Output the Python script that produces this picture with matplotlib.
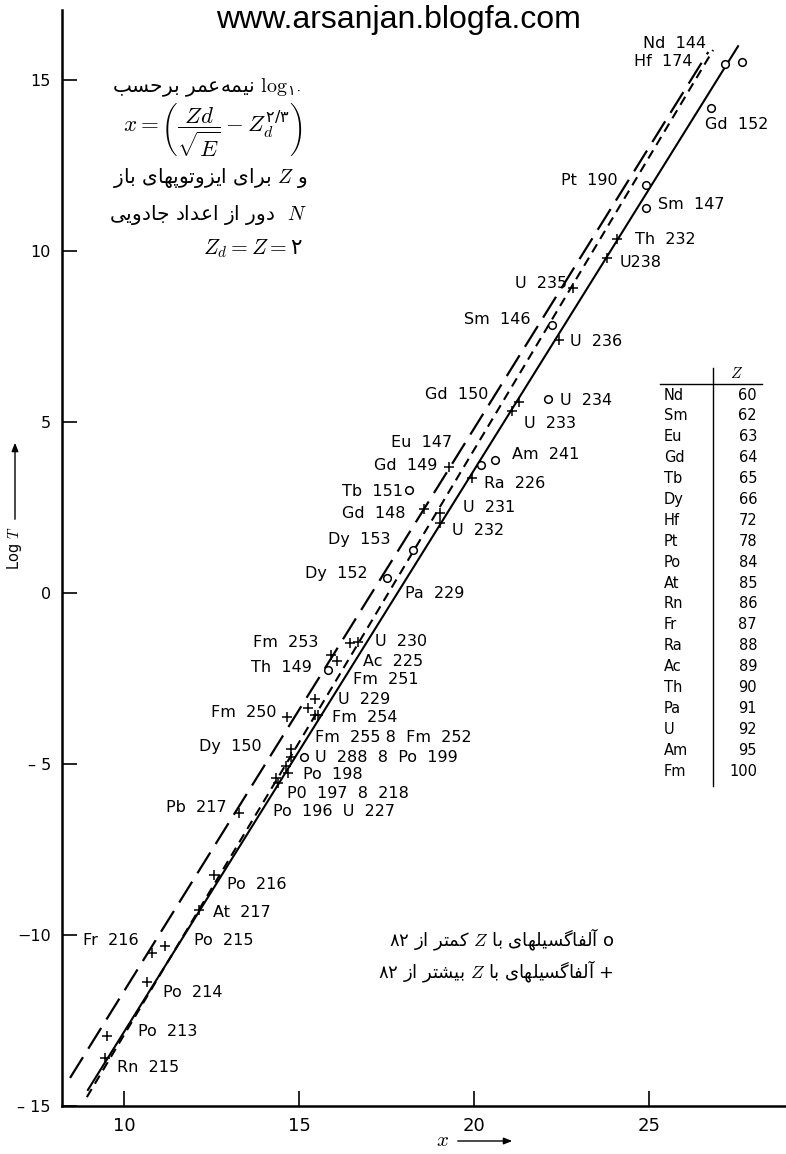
import matplotlib
matplotlib.use('Agg')
import matplotlib.pyplot as plt
from matplotlib.lines import Line2D
from matplotlib import font_manager

plt.rcParams['mathtext.fontset'] = 'cm'
plt.rcParams['font.family'] = 'DejaVu Sans'

installed = {f.name for f in font_manager.fontManager.ttflist}
narrow = 'Liberation Sans Narrow' if 'Liberation Sans Narrow' in installed else 'DejaVu Sans'

# alpha emitters with Z < 82 (open circles)
circle_x = [27.17, 27.65, 26.76, 24.91, 24.91, 22.24, 22.12, 20.60, 20.19,
            18.14, 18.27, 17.51, 15.84, 15.14]
circle_y = [15.46, 15.52, 14.17, 11.93, 11.27, 7.84, 5.66, 3.89, 3.74,
            3.01, 1.26, 0.43, -2.25, -4.79]

# alpha emitters with Z > 82 (crosses)
plus_x = [24.09, 23.79, 22.82, 22.44, 21.29, 21.08, 19.29, 19.93, 18.58,
          19.03, 19.03, 16.46, 16.69, 15.91, 16.08, 15.46, 15.27, 15.46,
          15.55, 14.67, 14.76, 14.76, 14.63, 14.69, 14.34, 14.41, 13.29,
          12.57, 12.15, 11.17, 10.79, 10.67, 9.51, 9.46]
plus_y = [10.35, 9.80, 8.91, 7.40, 5.59, 5.32, 3.69, 3.35, 2.45,
          2.33, 2.06, -1.47, -1.42, -1.81, -1.98, -3.10, -3.37, -3.57,
          -3.57, -3.62, -4.57, -4.79, -5.06, -5.27, -5.42, -5.56, -6.44,
          -8.25, -9.27, -10.32, -10.54, -11.37, -12.95, -13.61]

# fitted lines (end points)
long_x, long_y = [8.46, 26.69], [-14.18, 15.82]
short_x, short_y = [8.94, 26.83], [-14.74, 15.88]
solid_x, solid_y = [8.97, 27.54], [-14.53, 15.99]

# nuclide names next to the points: (text, x, y, ha)
point_labels = [
    ('Nd  144', 24.83, 16.08, 'left'), ('Hf  174', 24.57, 15.53, 'left'),
    ('Gd  152', 26.60, 13.71, 'left'), ('Pt  190', 24.11, 12.05, 'right'),
    ('Sm  147', 25.26, 11.35, 'left'), ('Th  232', 24.60, 10.35, 'left'),
    ('U238', 24.17, 9.66, 'left'), ('U  235', 22.66, 9.04, 'right'),
    ('Sm  146', 21.60, 8.01, 'right'), ('U  236', 22.74, 7.35, 'left'),
    ('Gd  150', 20.40, 5.82, 'right'), ('U  234', 22.46, 5.64, 'left'),
    ('U  233', 21.43, 4.97, 'left'), ('Eu  147', 19.37, 4.39, 'right'),
    ('Am  241', 21.09, 4.06, 'left'), ('Gd  149', 18.94, 3.72, 'right'),
    ('Ra  226', 20.29, 3.19, 'left'), ('Tb  151', 17.97, 2.98, 'right'),
    ('U  231', 19.69, 2.49, 'left'), ('Gd  148', 18.03, 2.34, 'right'),
    ('U  232', 19.37, 1.84, 'left'), ('Dy  153', 17.60, 1.58, 'right'),
    ('Dy  152', 16.97, 0.58, 'right'), ('Pa  229', 18.03, 0.00, 'left'),
    ('Fm  253', 15.54, -1.46, 'right'), ('U  230', 17.17, -1.43, 'left'),
    ('Th  149', 15.37, -2.19, 'right'), ('Ac  225', 16.83, -1.99, 'left'),
    ('Fm  251', 16.54, -2.54, 'left'), ('U  229', 16.11, -3.10, 'left'),
    ('Fm  250', 14.37, -3.48, 'right'), ('Fm  254', 15.94, -3.65, 'left'),
    ('Fm  255 8  Fm  252', 15.46, -4.21, 'left'),
    ('Dy  150', 13.94, -4.50, 'right'),
    ('U  288  8  Po  199', 15.46, -4.80, 'left'),
    ('Po  198', 15.11, -5.32, 'left'),
    ('P0  197  8  218', 14.66, -5.85, 'left'),
    ('Pb  217', 12.94, -6.26, 'right'),
    ('Po  196  U  227', 14.26, -6.40, 'left'),
    ('Po  216', 12.94, -8.51, 'left'), ('At  217', 12.54, -9.33, 'left'),
    ('Po  215', 12.00, -10.15, 'left'), ('Fr  216', 8.83, -10.15, 'left'),
    ('Po  214', 11.11, -11.67, 'left'), ('Po  213', 10.40, -12.81, 'left'),
    ('Rn  215', 9.80, -13.86, 'left'),
]

# element table
elements = ['Nd', 'Sm', 'Eu', 'Gd', 'Tb', 'Dy', 'Hf', 'Pt', 'Po', 'At',
            'Rn', 'Fr', 'Ra', 'Ac', 'Th', 'Pa', 'U', 'Am', 'Fm']
z_numbers = [60, 62, 63, 64, 65, 66, 72, 78, 84, 85,
             86, 87, 88, 89, 90, 91, 92, 95, 100]

y_ticks = [-15, -10, -5, 0, 5, 10, 15]
y_ticklabels = ['\u2013 15', '\u221210', '\u2013 5', '0', '5', '10', '15']
x_ticks = [10, 15, 20, 25]

# presentation forms: isolated, final (, initial, medial)
FORMS = {
    '\u0627': ('\uFE8D', '\uFE8E'),
    '\u0622': ('\uFE81', '\uFE82'),
    '\u062F': ('\uFEA9', '\uFEAA'),
    '\u0631': ('\uFEAD', '\uFEAE'),
    '\u0632': ('\uFEAF', '\uFEB0'),
    '\u0648': ('\uFEED', '\uFEEE'),
    '\u0628': ('\uFE8F', '\uFE90', '\uFE91', '\uFE92'),
    '\u067E': ('\uFB56', '\uFB57', '\uFB58', '\uFB59'),
    '\u062A': ('\uFE95', '\uFE96', '\uFE97', '\uFE98'),
    '\u062C': ('\uFE9D', '\uFE9E', '\uFE9F', '\uFEA0'),
    '\u062D': ('\uFEA1', '\uFEA2', '\uFEA3', '\uFEA4'),
    '\u0633': ('\uFEB1', '\uFEB2', '\uFEB3', '\uFEB4'),
    '\u0634': ('\uFEB5', '\uFEB6', '\uFEB7', '\uFEB8'),
    '\u0639': ('\uFEC9', '\uFECA', '\uFECB', '\uFECC'),
    '\u0641': ('\uFED1', '\uFED2', '\uFED3', '\uFED4'),
    '\u06A9': ('\uFB8E', '\uFB8F', '\uFB90', '\uFB91'),
    '\u06AF': ('\uFB92', '\uFB93', '\uFB94', '\uFB95'),
    '\u0644': ('\uFEDD', '\uFEDE', '\uFEDF', '\uFEE0'),
    '\u0645': ('\uFEE1', '\uFEE2', '\uFEE3', '\uFEE4'),
    '\u0646': ('\uFEE5', '\uFEE6', '\uFEE7', '\uFEE8'),
    '\u0647': ('\uFEE9', '\uFEEA', '\uFEEB', '\uFEEC'),
    '\u06CC': ('\uFBFC', '\uFBFD', '\uFBFE', '\uFBFF'),
}


def fa(text):
    # join the letters and lay them out right to left
    out = []
    for i, ch in enumerate(text):
        forms = FORMS.get(ch)
        if forms is None:
            if ch != '\u200c':
                out.append(ch)
            continue
        prev = text[i - 1] if i > 0 else ''
        nxt = text[i + 1] if i + 1 < len(text) else ''
        join_prev = prev in FORMS and len(FORMS[prev]) == 4
        join_next = len(forms) == 4 and nxt in FORMS
        if join_prev and join_next:
            out.append(forms[3])
        elif join_next:
            out.append(forms[2])
        elif join_prev:
            out.append(forms[1])
        else:
            out.append(forms[0])
    return ''.join(out)[::-1]


W, H = 786, 1154


def fx(x):
    return x / W


def fy(y):
    return 1 - y / H


fig = plt.figure(figsize=(W / 100, H / 100), dpi=100)
ax = fig.add_axes([fx(62), 48 / H, 724 / W, 1096 / H])
ax.set_xlim(8.23, 28.91)
ax.set_ylim(-15, 17.05)

ax.plot(long_x, long_y, color='black', lw=1.6, linestyle=(0, (11, 4.5)))
ax.plot(short_x, short_y, color='black', lw=1.5, linestyle=(0, (4.5, 3)))
ax.plot(solid_x, solid_y, color='black', lw=1.5)

ax.plot(circle_x, circle_y, 'o', mfc='white', mec='black', ms=5.5, mew=1.1)
ax.plot(plus_x, plus_y, '+', color='black', ms=6.5, mew=1.1)

for text, x, y, ha in point_labels:
    ax.text(x, y, text, ha=ha, va='center', fontsize=11.5)

for s in ['top', 'right']:
    ax.spines[s].set_visible(False)
for s in ['left', 'bottom']:
    ax.spines[s].set_linewidth(1.8)

ax.set_yticks(y_ticks)
ax.set_yticklabels(y_ticklabels, fontsize=11.5)
ax.set_xticks(x_ticks)
ax.set_xticklabels([str(t) for t in x_ticks], fontsize=13, family=narrow)
ax.tick_params(direction='in', length=11, width=1.2)
ax.tick_params(axis='y', pad=8)
ax.tick_params(axis='x', pad=8)

# axis titles with arrows
fig.text(fx(15), fy(548), r'Log $T$', rotation=90, ha='center', va='center',
         fontsize=10.5)
ax.annotate('', xy=(fx(15), fy(440)), xytext=(fx(15), fy(522)),
            xycoords='figure fraction', textcoords='figure fraction',
            arrowprops=dict(arrowstyle='-|>,head_length=0.5,head_width=0.2',
                            color='black', lw=1))
fig.text(fx(443), fy(1140), r'$x$', ha='center', va='center', fontsize=15)
ax.annotate('', xy=(fx(515), fy(1141)), xytext=(fx(455), fy(1141)),
            xycoords='figure fraction', textcoords='figure fraction',
            arrowprops=dict(arrowstyle='-|>,head_length=0.5,head_width=0.2',
                            color='black', lw=1))

fig.text(fx(398), fy(20), 'www.arsanjan.blogfa.com', ha='center', va='center',
         fontsize=23, family='Liberation Sans')

# description in the upper left corner
fig.text(fx(301), fy(88), fa('نیمه‌عمر برحسب') + r' $\log_{\mathdefault{۱۰}}$',
         ha='right', va='center', fontsize=14.5)
fig.text(fx(303), fy(130),
         r'$x=\left(\dfrac{Zd}{\sqrt{E}}-Z_d^{\mathdefault{۲/۳}}\right)$',
         ha='right', va='center', fontsize=16.5)
fig.text(fx(308), fy(178), fa('برای ایزوتوپهای باز') + r' $Z$ ' + fa('و'),
         ha='right', va='center', fontsize=14.5)
fig.text(fx(307), fy(215), fa('دور از اعداد جادویی') + r'  $N$',
         ha='right', va='center', fontsize=14.5)
fig.text(fx(303), fy(249), r'$Z_d=Z=\mathdefault{۲}$',
         ha='right', va='center', fontsize=15.5)

# marker key
fig.text(fx(614), fy(940), '۸۲ ' + fa('کمتر از') + r' $Z$ ' + fa('آلفاگسیلهای با') + ' o',
         ha='right', va='center', fontsize=13)
fig.text(fx(614), fy(972), '۸۲ ' + fa('بیشتر از') + r' $Z$ ' + fa('آلفاگسیلهای با') + ' +',
         ha='right', va='center', fontsize=13)

# table of atomic numbers
fig.add_artist(Line2D([fx(713), fx(713)], [fy(368), fy(786)], color='black', lw=1))
fig.add_artist(Line2D([fx(660), fx(762)], [fy(384), fy(384)], color='black', lw=1))
fig.text(fx(737), fy(374), r'$Z$', ha='center', va='center', fontsize=11)
for i, (name, z) in enumerate(zip(elements, z_numbers)):
    y = 395 + 20.9 * i
    fig.text(fx(664), fy(y), name, ha='left', va='center', fontsize=10.5, family=narrow)
    fig.text(fx(757), fy(y), str(z), ha='right', va='center', fontsize=10.5, family=narrow)

fig.savefig('out.png', dpi=100)
